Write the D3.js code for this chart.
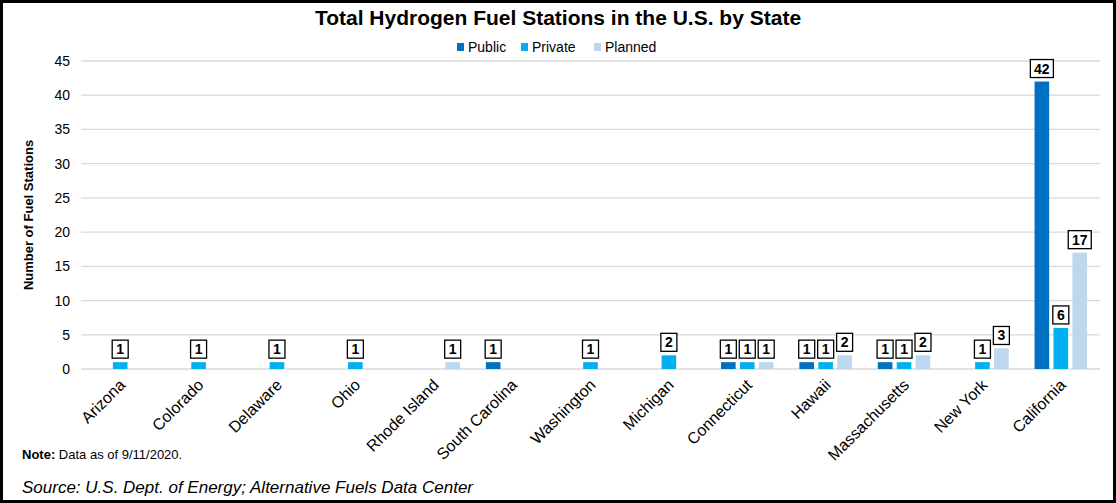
<!DOCTYPE html>
<html><head><meta charset="utf-8">
<script src="https://cdn.jsdelivr.net/npm/d3@7"></script>
<style>
html,body{margin:0;padding:0;background:#fff;}
svg{display:block;font-family:Arial,"Liberation Sans",sans-serif;}
</style></head>
<body>
<svg id="chart" width="1116" height="503"></svg>
<script>
const states = ["Arizona","Colorado","Delaware","Ohio","Rhode Island","South Carolina","Washington","Michigan","Connecticut","Hawaii","Massachusetts","New York","California"];
const seriesNames = ["Public","Private","Planned"];
const publicVals  = [0,0,0,0,0,1,0,0,1,1,1,0,42];
const privateVals = [1,1,1,1,0,0,1,2,1,1,1,1,6];
const plannedVals = [0,0,0,0,1,0,0,0,1,2,2,3,17];
const yTicks = [0,5,10,15,20,25,30,35,40,45];
const colors = ["#0070c0","#00b0f0","#bdd7ee"];

const svg = d3.select("#chart");
const W = 1116, H = 503;
const m = {left:81, right:16, top:61, bottom:134};

// border
svg.append("rect").attr("x",1.5).attr("y",1.5).attr("width",W-3).attr("height",H-3)
  .attr("fill","#fff").attr("stroke","#000").attr("stroke-width",3);

const x = d3.scaleBand().domain(states).range([m.left, W-m.right]).paddingInner(0).paddingOuter(0);
const y = d3.scaleLinear().domain([0,45]).range([H-m.bottom, m.top]);
const step = 17.5, bw = 13.5;
const xs = d3.scaleBand().domain(seriesNames).range([x.bandwidth()/2 - step*1.5, x.bandwidth()/2 + step*1.5]).paddingInner((step-bw)/step).paddingOuter(0);

// gridlines
svg.append("g").selectAll("line").data(yTicks).join("line")
  .attr("x1",m.left).attr("x2",W-m.right)
  .attr("y1",d=>y(d)).attr("y2",d=>y(d))
  .attr("stroke","#d9d9d9").attr("stroke-width",1.3);

// y axis
const yAxis = d3.axisLeft(y).tickValues(yTicks).tickSize(0).tickPadding(11);
const gy = svg.append("g").attr("transform",`translate(${m.left},0)`).call(yAxis);
gy.select(".domain").remove();
gy.selectAll("text").attr("font-size",14).attr("fill","#000").attr("font-family","Arial,'Liberation Sans',sans-serif");

// x axis labels
const xAxis = d3.axisBottom(x).tickSize(0).tickPadding(0);
const gx = svg.append("g").attr("transform",`translate(0,${y(0)})`).call(xAxis);
gx.select(".domain").remove();
gx.selectAll("text").attr("font-size",16).attr("fill","#000")
  .attr("font-family","Arial,'Liberation Sans',sans-serif")
  .attr("text-anchor","end").attr("dy",null).attr("y",0)
  .attr("transform","translate(6,17) rotate(-45)");

const data = states.map((s,i)=>({state:s, vals:[publicVals[i],privateVals[i],plannedVals[i]]}));
const groups = svg.append("g").selectAll("g").data(data).join("g")
  .attr("transform",d=>`translate(${x(d.state)},0)`);
const items = groups.selectAll("g.item").data(d=>d.vals.map((v,j)=>({v, name:seriesNames[j], j}))).join("g").attr("class","item");
items.filter(d=>d.v>0).append("rect")
  .attr("x",d=>xs(d.name)).attr("width",xs.bandwidth())
  .attr("y",d=>y(d.v)).attr("height",d=>y(0)-y(d.v))
  .attr("fill",d=>colors[d.j]);

// labels
const lab = items.filter(d=>d.v>0).append("g")
  .attr("transform",d=>`translate(${xs(d.name)+xs.bandwidth()/2},${y(d.v)-4})`);
lab.append("rect")
  .attr("x",d=>-(String(d.v).length>1?11.5:8)).attr("width",d=>String(d.v).length>1?23:16)
  .attr("y",-18).attr("height",18)
  .attr("fill","#fff").attr("stroke","#000").attr("stroke-width",1.3);
lab.append("text").attr("text-anchor","middle").attr("y",-4)
  .attr("font-size",14).attr("font-weight","bold").attr("fill","#000")
  .text(d=>d.v);

// title
svg.append("text").attr("x",558).attr("y",25).attr("text-anchor","middle")
  .attr("font-size",21).attr("font-weight","bold").text("Total Hydrogen Fuel Stations in the U.S. by State");

// legend
const legX = [457,521,594];
const leg = svg.append("g").selectAll("g").data(seriesNames).join("g")
  .attr("transform",(d,i)=>`translate(${legX[i]},47)`);
leg.append("rect").attr("x",0).attr("y",-4).attr("width",7).attr("height",8).attr("fill",(d,i)=>colors[i]);
leg.append("text").attr("x",11).attr("y",5).attr("font-size",14).attr("fill","#000").text(d=>d);

// y label
svg.append("text").attr("transform","translate(33,215) rotate(-90)").attr("text-anchor","middle")
  .attr("font-size",13).attr("font-weight","bold").text("Number of Fuel Stations");

// note
const note = svg.append("text").attr("x",22).attr("y",459).attr("font-size",13);
note.append("tspan").attr("font-weight","bold").text("Note:");
note.append("tspan").text(" Data as of 9/11/2020.");

svg.append("text").attr("x",22).attr("y",493).attr("font-size",17).attr("font-style","italic")
  .text("Source: U.S. Dept. of Energy; Alternative Fuels Data Center");
</script>
</body></html>
